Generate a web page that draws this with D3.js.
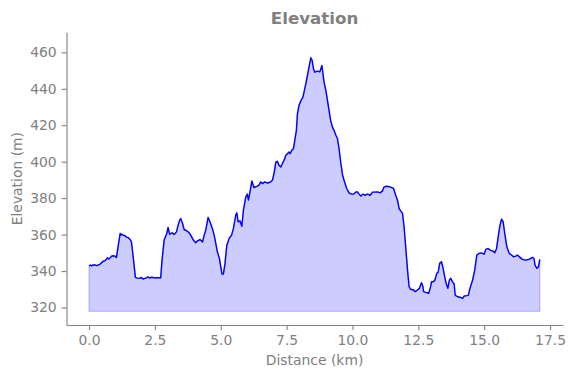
<!DOCTYPE html>
<html>
<head>
<meta charset="utf-8">
<script src="https://cdn.jsdelivr.net/npm/d3@7"></script>
<style>
  body { margin: 0; background: #fff; }
  svg text { font-family: "DejaVu Sans", sans-serif; }
</style>
</head>
<body>
<div id="chart"></div>
<script>
// elevation profile
const distanceKm = [
    0.00, 0.05, 0.10, 0.15, 0.22, 0.30, 0.41, 0.47, 0.55, 0.60, 0.66, 0.70, 0.75, 0.79, 0.85, 0.92, 0.98,
    1.04, 1.10, 1.18, 1.22, 1.25, 1.30, 1.36, 1.42, 1.48, 1.56, 1.61, 1.65, 1.69, 1.76, 1.84, 1.92, 1.98,
    2.05, 2.12, 2.18, 2.24, 2.30, 2.37, 2.43, 2.50, 2.56, 2.64, 2.72, 2.77, 2.85, 2.95,
    3.00, 3.06, 3.15, 3.23, 3.32, 3.38, 3.44, 3.48, 3.55, 3.61, 3.71, 3.80, 3.86, 3.96,
    4.05, 4.12, 4.21, 4.31, 4.37, 4.43, 4.52, 4.59, 4.68, 4.75, 4.81, 4.87, 4.95,
    5.00, 5.05, 5.10, 5.16, 5.23, 5.32, 5.41, 5.48, 5.57, 5.61, 5.66, 5.73, 5.80, 5.86, 5.95,
    6.01, 6.05, 6.11, 6.18, 6.26, 6.37, 6.45, 6.52, 6.58, 6.67, 6.77, 6.87, 6.96,
    7.02, 7.09, 7.15, 7.21, 7.28, 7.34, 7.43, 7.47, 7.53, 7.59, 7.63, 7.70, 7.76, 7.81, 7.87, 7.91, 7.97,
    8.06, 8.12, 8.16, 8.23, 8.29, 8.35, 8.42, 8.47, 8.52, 8.57, 8.67, 8.76, 8.80, 8.84, 8.88, 8.92, 8.99,
    9.05, 9.11, 9.17, 9.24, 9.30, 9.37, 9.43, 9.49, 9.56, 9.62, 9.68, 9.78, 9.87, 9.96,
    10.04, 10.13, 10.19, 10.25, 10.32, 10.39, 10.47, 10.57, 10.67, 10.76, 10.85, 10.95,
    11.05, 11.14, 11.20, 11.30, 11.43, 11.56, 11.64, 11.71, 11.77, 11.83, 11.90, 11.96,
    12.02, 12.09, 12.15, 12.21, 12.32, 12.38, 12.47, 12.54, 12.62, 12.67, 12.70, 12.78, 12.89, 12.95,
    13.00, 13.07, 13.13, 13.20, 13.25, 13.31, 13.38, 13.44, 13.50, 13.55, 13.62, 13.68, 13.73, 13.80, 13.86, 13.90, 13.99,
    14.09, 14.18, 14.24, 14.34, 14.40, 14.46, 14.56, 14.64, 14.72, 14.81, 14.87, 14.94,
    15.00, 15.06, 15.15, 15.22, 15.32, 15.40, 15.47, 15.53, 15.60, 15.66, 15.72, 15.78, 15.86, 15.95,
    16.04, 16.11, 16.20, 16.26, 16.36, 16.45, 16.58, 16.70, 16.83, 16.89, 16.93,
    17.00, 17.06, 17.11
];
const elevationM = [
    342.9, 343.3, 342.8, 343.4, 343.3, 343.0, 343.7, 344.5, 345.5, 345.6, 346.5, 347.3, 346.6, 347.0, 348.2, 348.4, 348.2,
    347.5, 353.3, 360.6, 359.8, 360.2, 359.6, 359.5, 358.6, 358.4, 357.3, 356.0, 351.0, 346.0, 336.5, 336.1, 336.0, 336.5,
    335.6, 336.0, 336.3, 336.8, 336.2, 336.6, 336.5, 336.1, 336.3, 336.4, 336.3, 346.0, 357.0, 360.6,
    363.9, 360.2, 361.0, 360.1, 361.5, 365.2, 367.9, 368.8, 366.1, 362.8, 362.1, 361.0, 359.7, 357.0,
    355.5, 356.6, 357.3, 356.0, 359.7, 362.4, 369.4, 367.0, 363.4, 359.7, 355.2, 350.6, 346.9,
    342.3, 338.3, 338.3, 344.2, 354.2, 357.9, 359.7, 363.4, 370.7, 371.9, 367.0, 367.5, 364.6, 373.4, 380.7,
    382.2, 378.9, 383.4, 389.4, 385.8, 386.5, 387.1, 388.9, 388.0, 388.9, 388.3, 388.7, 389.8,
    393.5, 399.8, 400.2, 398.0, 397.1, 399.0, 401.7, 403.5, 404.4, 405.3, 404.4, 406.3, 407.2, 411.7, 417.2, 426.3, 430.9,
    434.0, 435.4, 438.2, 442.8, 447.3, 451.9, 457.0, 455.5, 451.0, 449.1, 449.7, 449.3, 451.0, 452.8, 448.3, 443.7, 439.1,
    433.6, 428.2, 422.7, 419.0, 417.2, 414.5, 412.7, 407.2, 399.0, 393.0, 389.8, 385.3, 382.9, 382.2,
    382.2, 383.4, 383.4, 382.2, 381.1, 382.2, 381.6, 382.2, 381.6, 383.3, 383.3, 383.4,
    382.9, 384.0, 386.2, 386.5, 386.2, 385.3, 381.6, 378.9, 374.3, 373.0, 371.6, 364.2,
    353.3, 340.5, 331.4, 330.0, 329.6, 328.7, 329.6, 330.5, 333.6, 331.8, 328.7, 328.3, 327.8, 330.5,
    334.1, 334.1, 335.1, 338.7, 339.1, 344.2, 345.1, 341.5, 336.9, 333.6, 330.5, 335.1, 336.0, 334.1, 332.9, 326.8, 325.9,
    325.6, 325.0, 326.3, 326.5, 326.8, 330.5, 335.1, 340.5, 348.8, 349.7, 350.0, 349.7,
    349.3, 351.9, 352.4, 351.5, 351.1, 350.0, 352.4, 358.8, 365.2, 368.5, 367.0, 360.6, 353.3, 349.7,
    348.8, 347.8, 348.2, 348.8, 347.5, 346.4, 346.0, 346.4, 347.5, 346.9, 343.3,
    341.5, 342.3, 346.4
];
const fillBase = 317.9;   // bottom of the shaded area
const xTicks = [0, 2.5, 5, 7.5, 10, 12.5, 15, 17.5];
const yTicks = [320, 340, 360, 380, 400, 420, 440, 460];
const xDomain = [-0.856, 17.98];
const yDomain = [310.4, 471.0];

const W = 574, H = 378;
const margin = {left: 66.5, right: 11.3, top: 32.3, bottom: 53};
const grey = '#808080';
const fontPx = 13.9;

let pts = distanceKm.map((d, i) => ({x: d, y: elevationM[i]}));

let svg = d3.select('#chart').append('svg')
    .attr('width', W)
    .attr('height', H);

let x = d3.scaleLinear().domain(xDomain).range([margin.left, W - margin.right]);
let y = d3.scaleLinear().domain(yDomain).range([H - margin.bottom, margin.top]);

//shaded area under the profile
let area = d3.area()
    .x(d => x(d.x))
    .y0(y(fillBase))
    .y1(d => y(d.y));

svg.append('path')
    .datum(pts)
    .attr('d', area)
    .style('fill', 'rgba(0,0,255,0.2)')
    .style('stroke', 'rgba(0,0,255,0.2)')
    .style('stroke-width', 1.4);

//profile line
let line = d3.line()
    .x(d => x(d.x))
    .y(d => y(d.y));

svg.append('path')
    .datum(pts)
    .attr('d', line)
    .style('fill', 'none')
    .style('stroke', '#0000ff')
    .style('stroke-width', 1.4)
    .style('stroke-linejoin', 'round');

//axes
let xAxis = d3.axisBottom(x)
    .tickValues(xTicks)
    .tickFormat(d3.format('.1f'))
    .tickSizeInner(4.9)
    .tickSizeOuter(0)
    .tickPadding(4.9);

let yAxis = d3.axisLeft(y)
    .tickValues(yTicks)
    .tickFormat(d3.format('d'))
    .tickSizeInner(4.9)
    .tickSizeOuter(0)
    .tickPadding(4.9);

let gx = svg.append('g')
    .attr('transform', 'translate(0,' + (H - margin.bottom) + ')')
    .call(xAxis);
let gy = svg.append('g')
    .attr('transform', 'translate(' + margin.left + ',0)')
    .call(yAxis);

[gx, gy].forEach(g => {
    g.select('.domain').style('stroke', grey).style('stroke-width', 1.1);
    g.selectAll('.tick line').style('stroke', grey).style('stroke-width', 1.1);
    g.selectAll('.tick text')
        .style('fill', grey)
        .style('font-size', fontPx + 'px')
        .style('font-family', '"DejaVu Sans", sans-serif');
});

//titles
let cx = (margin.left + W - margin.right) / 2;

svg.append('text')
    .attr('x', cx)
    .attr('y', 24)
    .text('Elevation')
    .style('fill', grey)
    .style('font-size', '16.7px')
    .style('font-weight', 'bold')
    .style('text-anchor', 'middle');

svg.append('text')
    .attr('x', cx)
    .attr('y', 365)
    .text('Distance (km)')
    .style('fill', grey)
    .style('font-size', fontPx + 'px')
    .style('text-anchor', 'middle');

let cy = (margin.top + H - margin.bottom) / 2;
svg.append('text')
    .attr('transform', 'translate(22,' + cy + ') rotate(-90)')
    .text('Elevation (m)')
    .style('fill', grey)
    .style('font-size', fontPx + 'px')
    .style('text-anchor', 'middle');
</script>
</body>
</html>
